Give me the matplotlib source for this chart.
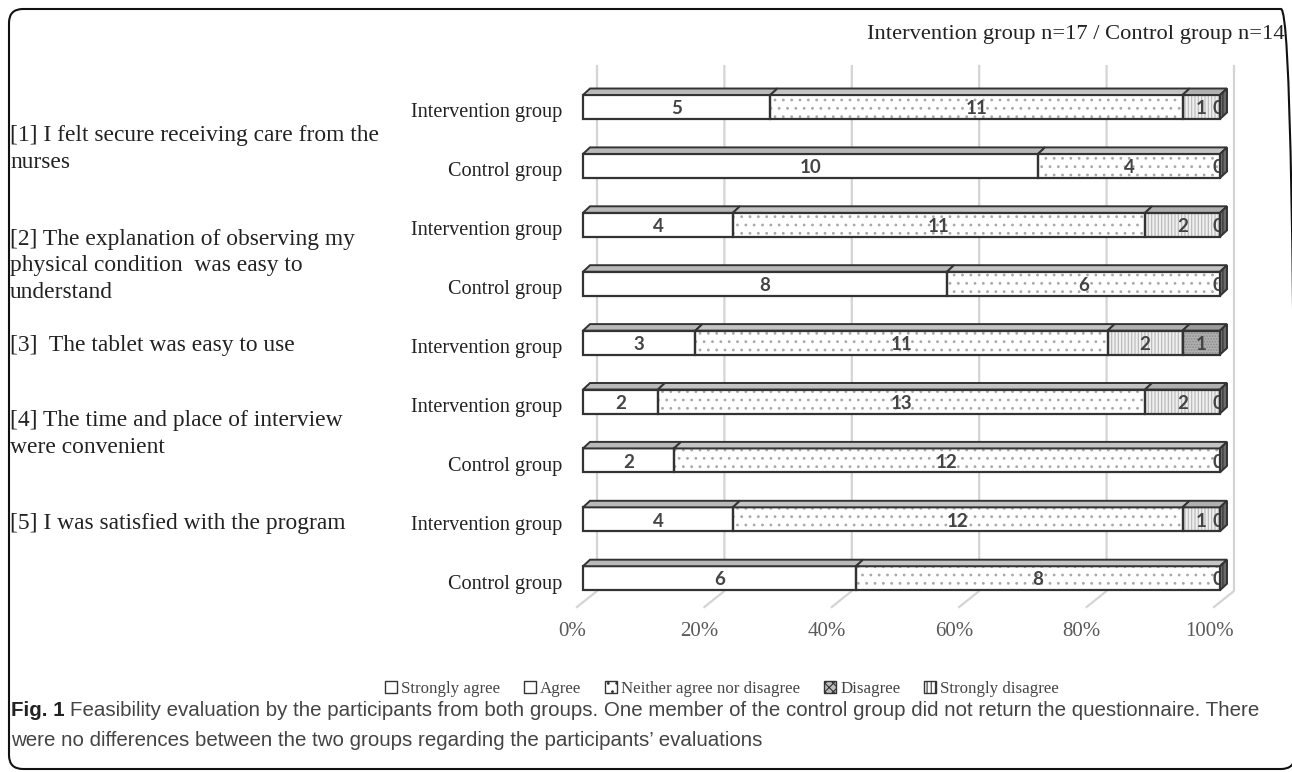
import numpy as np
import matplotlib.pyplot as plt
from matplotlib.patches import Polygon, Patch, FancyBboxPatch

# rows of the chart (top to bottom)
row_labels = ["Intervention group", "Control group",
              "Intervention group", "Control group",
              "Intervention group",
              "Intervention group", "Control group",
              "Intervention group", "Control group"]
categories = ["Strongly agree", "Agree", "Neither agree nor disagree",
              "Disagree", "Strongly disagree"]
strongly_agree = [5, 10, 4, 8, 3, 2, 2, 4, 6]
agree = [0, 0, 0, 0, 0, 0, 0, 0, 0]
neither = [11, 4, 11, 6, 11, 13, 12, 12, 8]
disagree = [1, 0, 2, 0, 2, 2, 0, 1, 0]
strongly_disagree = [0, 0, 0, 0, 1, 0, 0, 0, 0]

questions = ["[1] I felt secure receiving care from the\nnurses",
             "[2] The explanation of observing my\nphysical condition  was easy to\nunderstand",
             "[3]  The tablet was easy to use",
             "[4] The time and place of interview\nwere convenient",
             "[5] I was satisfied with the program"]
question_y = [149, 266, 345, 434, 524]   # pixel centres of the left texts
ticks = [0, 0.2, 0.4, 0.6, 0.8, 1.0]
tick_labels = ["0%", "20%", "40%", "60%", "80%", "100%"]

W, H = 1292, 772
serif = ["Liberation Serif", "DejaVu Serif"]
narrow = ["Liberation Sans Narrow", "Liberation Sans", "DejaVu Sans"]

plt.rcParams["hatch.linewidth"] = 0.8
fig = plt.figure(figsize=(W / 100, H / 100), dpi=100)

# axes placed so that 0% -> 583 px and 100% -> 1220 px (front faces)
ax_l, ax_r, ax_t, ax_b = 540, 1260, 60, 640
ax = fig.add_axes([ax_l / W, 1 - ax_b / H, (ax_r - ax_l) / W, (ax_b - ax_t) / H])
px_x = 637.0
px_y = 58.9
ax.set_xlim((ax_l - 583) / px_x, (ax_r - 583) / px_x)
ax.set_ylim((ax_b - 107) / px_y, (ax_t - 107) / px_y)
ax.axis("off")

dx = 7 / px_x       # depth of the bars
dy = 6.5 / px_y
h = 24 / px_y

# back wall gridlines + floor lines
for v in ticks:
    xb = v + 14 / px_x
    ax.plot([xb, xb, v - 6 / px_x], [(66 - 107) / px_y, (591 - 107) / px_y, (607 - 107) / px_y],
            color="#d4d4d4", lw=1.6, zorder=0)
for v, t in zip(ticks, tick_labels):
    ax.text(v - 11 / px_x, (631 - 107) / px_y, t, ha="center", va="center",
            fontsize=15, family=serif, color="#595959")

styles = [
    dict(face="white", hatch=None, hc="white", top="#b9b9b9"),
    dict(face="white", hatch=None, hc="white", top="#b9b9b9"),
    dict(face="white", hatch="..", hc="#a8a8a8", top="#c4c4c4"),
    dict(face="#eeeeee", hatch="|||||", hc="#b8b8b8", top="#b0b0b0"),
    dict(face="#b0b0b0", hatch="......", hc="#8a8a8a", top="#9a9a9a"),
]

series = [strongly_agree, agree, neither, disagree, strongly_disagree]
for i in range(len(row_labels)):
    vals = np.array([s[i] for s in series], dtype=float)
    frac = vals / vals.sum()
    left = 0.0
    top = i - h / 2
    for k, f in enumerate(frac):
        st = styles[k]
        if f > 0:
            ax.barh(i, f, left=left, height=h, color=st["face"], edgecolor=st["hc"],
                    hatch=st["hatch"], linewidth=0, zorder=2)
            ax.barh(i, f, left=left, height=h, fill=False, edgecolor="#333333",
                    linewidth=1.6, zorder=3)
            ax.add_patch(Polygon([(left, top), (left + f, top), (left + f + dx, top - dy),
                                  (left + dx, top - dy)], closed=True, facecolor=st["top"],
                                 edgecolor="#333333", lw=1.4, zorder=3))
            ax.text(left + f / 2, i + 0.03, str(int(vals[k])), ha="center", va="center",
                    fontsize=13.5, fontweight="bold", family=["Lato", "DejaVu Sans"],
                    color="#444444", zorder=5)
        left += f
    if vals[-1] == 0:
        ax.text(1.0 - 2 / px_x, i + 0.03, "0", ha="center", va="center",
                fontsize=13.5, fontweight="bold", family=["Lato", "DejaVu Sans"],
                color="#444444", zorder=4)
    # right side face
    ax.add_patch(Polygon([(1.0, top), (1.0 + dx, top - dy), (1.0 + dx, top + h - dy), (1.0, top + h)],
                         closed=True, facecolor="#6a6a6a", edgecolor="#333333", hatch="||||",
                         lw=1.4, zorder=6))
    ax.text(-21 / px_x, i + 0.1, row_labels[i], ha="right", va="center",
            fontsize=14.6, family=serif, color="#222222")

for q, y in zip(questions, question_y):
    fig.text(10 / W, 1 - y / H, q, ha="left", va="center", fontsize=16.9,
             family=serif, color="#222222", linespacing=1.32)

fig.text(1285 / W, 1 - 34 / H, "Intervention group n=17 / Control group n=14",
         ha="right", va="center", fontsize=16.2, family=serif, color="#222222")

handles = [Patch(facecolor="white", edgecolor="#333333", label=categories[0]),
           Patch(facecolor="white", edgecolor="#333333", label=categories[1]),
           Patch(facecolor="white", edgecolor="#333333", hatch="..", label=categories[2]),
           Patch(facecolor="#bbbbbb", edgecolor="#333333", hatch="xxxx", label=categories[3]),
           Patch(facecolor="white", edgecolor="#333333", hatch="||||", label=categories[4])]
leg = fig.legend(handles=handles, loc="center", bbox_to_anchor=(722 / W, 1 - 689 / H), ncol=5,
                 frameon=False, prop={"family": serif, "size": 12.2}, handlelength=0.7,
                 handleheight=0.7, handletextpad=0.25, columnspacing=1.4)
for t in leg.get_texts():
    t.set_color("#444444")

# caption
fb = fig.text(11 / W, 1 - 711 / H, "Fig. 1", ha="left", va="center", fontsize=14.8,
              fontweight="bold", family=narrow, color="#222222")
fig.canvas.draw()
bb = fb.get_window_extent()
fig.text((bb.x1 + 5) / W, 1 - 711 / H,
         "Feasibility evaluation by the participants from both groups. One member of the "
         "control group did not return the questionnaire. There",
         ha="left", va="center", fontsize=14.8, family=narrow, color="#444444")
fig.text(11 / W, 1 - 741 / H,
         "were no differences between the two groups regarding the participants\u2019 evaluations",
         ha="left", va="center", fontsize=14.8, family=narrow, color="#444444")

# rounded frame around the figure (pixel coordinates)
fig.patches.append(FancyBboxPatch((9, 3), 1286, 760,
                                  boxstyle="round,pad=0,rounding_size=14",
                                  transform=None, fill=False,
                                  edgecolor="#111111", lw=1.5))

fig.savefig("out.png", dpi=100)
